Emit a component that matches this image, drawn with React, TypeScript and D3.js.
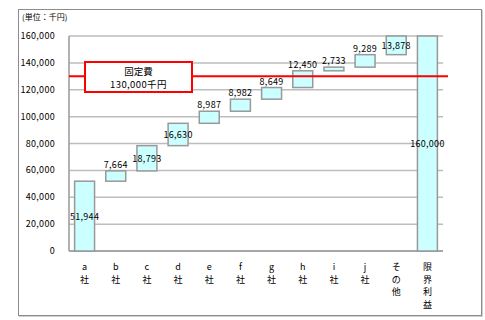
import React from "react";
import * as d3 from "d3";

const categories: string[][] = [
  ["a", "社"], ["b", "社"], ["c", "社"], ["d", "社"], ["e", "社"], ["f", "社"],
  ["g", "社"], ["h", "社"], ["i", "社"], ["j", "社"], ["そ", "の", "他"], ["限", "界", "利", "益"],
];
const increments: number[] = [51944, 7664, 18793, 16630, 8987, 8982, 8649, 12450, 2733, 9289, 13878];
const totalValue = 160000;
const fixedCost = 130000;
const yTicks: number[] = [0, 20000, 40000, 60000, 80000, 100000, 120000, 140000, 160000];
const unitLabel = "(単位：千円)";
const fixedLabel = ["固定費", "130,000千円"];

const W = 485, H = 320;
const font = "'Noto Sans CJK JP', 'Noto Sans', sans-serif";

export default function App() {
  const left = 69, right = 443, top = 36, bottom = 251;
  const x = d3.scaleBand<number>()
    .domain(d3.range(categories.length))
    .range([left, right])
    .paddingInner(0.36)
    .paddingOuter(0.18);
  const y = d3.scaleLinear().domain([0, 160000]).range([bottom, top]);
  const fmt = d3.format(",");

  const segs: { i: number; y0: number; y1: number; v: number }[] = [];
  let acc = 0;
  increments.forEach((v, i) => {
    segs.push({ i, y0: acc, y1: acc + v, v });
    acc += v;
  });
  segs.push({ i: increments.length, y0: 0, y1: totalValue, v: totalValue });

  const redY = y(fixedCost);

  return (
    <svg width={W} height={H} style={{ position: "absolute", left: 0, top: 0 }}>
      <rect x={0} y={0} width={W} height={H} fill="#fff" />
      <rect x={19.5} y={10.5} width={463} height={306} fill="none" stroke="#d0d0d0" strokeWidth={1} />
      <rect x={18.5} y={9.5} width={463} height={306} fill="#fff" stroke="#8c8c8c" strokeWidth={1} />
      <text x={22} y={20} fontSize={8} fontFamily={font} fill="#000">{unitLabel}</text>

      {yTicks.map((t) => (
        <line key={t} x1={left} x2={right} y1={y(t)} y2={y(t)} stroke="#bdbdbd" strokeWidth={1.5} />
      ))}
      {yTicks.map((t) => (
        <text key={"l" + t} x={55} y={y(t) + 3} textAnchor="end" fontSize={9} fontFamily={font} fill="#000" letterSpacing={0.3}>
          {fmt(t)}
        </text>
      ))}
      <line x1={left} x2={left} y1={top} y2={bottom} stroke="#999" strokeWidth={1.5} />
      <line x1={left} x2={right} y1={bottom} y2={bottom} stroke="#999" strokeWidth={1.5} />

      {segs.map((s) => {
        const bx = x(s.i)!;
        const bw = x.bandwidth();
        const yt = y(s.y1), yb = y(s.y0);
        return (
          <rect key={"b" + s.i} x={bx} y={yt} width={bw} height={yb - yt}
            fill="#ccffff" stroke="#999" strokeWidth={1.5} />
        );
      })}

      <line x1={left} x2={448} y1={redY} y2={redY} stroke="#ff0000" strokeWidth={2} />
      <rect x={85} y={62} width={107} height={30} fill="#fff" stroke="#ff0000" strokeWidth={2} />
      <text x={138.5} y={75} textAnchor="middle" fontSize={9.5} fontFamily={font} fill="#000">{fixedLabel[0]}</text>
      <text x={138.5} y={88} textAnchor="middle" fontSize={9.5} fontFamily={font} fill="#000" letterSpacing={0.4}>{fixedLabel[1]}</text>

      {segs.map((s) => {
        const cx = x(s.i)! + x.bandwidth() / 2;
        const yt = y(s.y1), yb = y(s.y0);
        const h = yb - yt;
        const ly = h < 18 ? yt - 3 : (yt + yb) / 2 + 3.5;
        return (
          <text key={"v" + s.i} x={cx} y={ly} textAnchor="middle" fontSize={9} fontFamily={font} fill="#000" letterSpacing={0.3}>
            {fmt(s.v)}
          </text>
        );
      })}

      {categories.map((lines, i) => {
        const cx = x(i)! + x.bandwidth() / 2;
        return (
          <text key={"x" + i} textAnchor="middle" fontSize={9} fontFamily={font} fill="#000">
            {lines.map((ln, j) => (
              <tspan key={j} x={cx} y={270 + j * 12.5}>{ln}</tspan>
            ))}
          </text>
        );
      })}
    </svg>
  );
}
